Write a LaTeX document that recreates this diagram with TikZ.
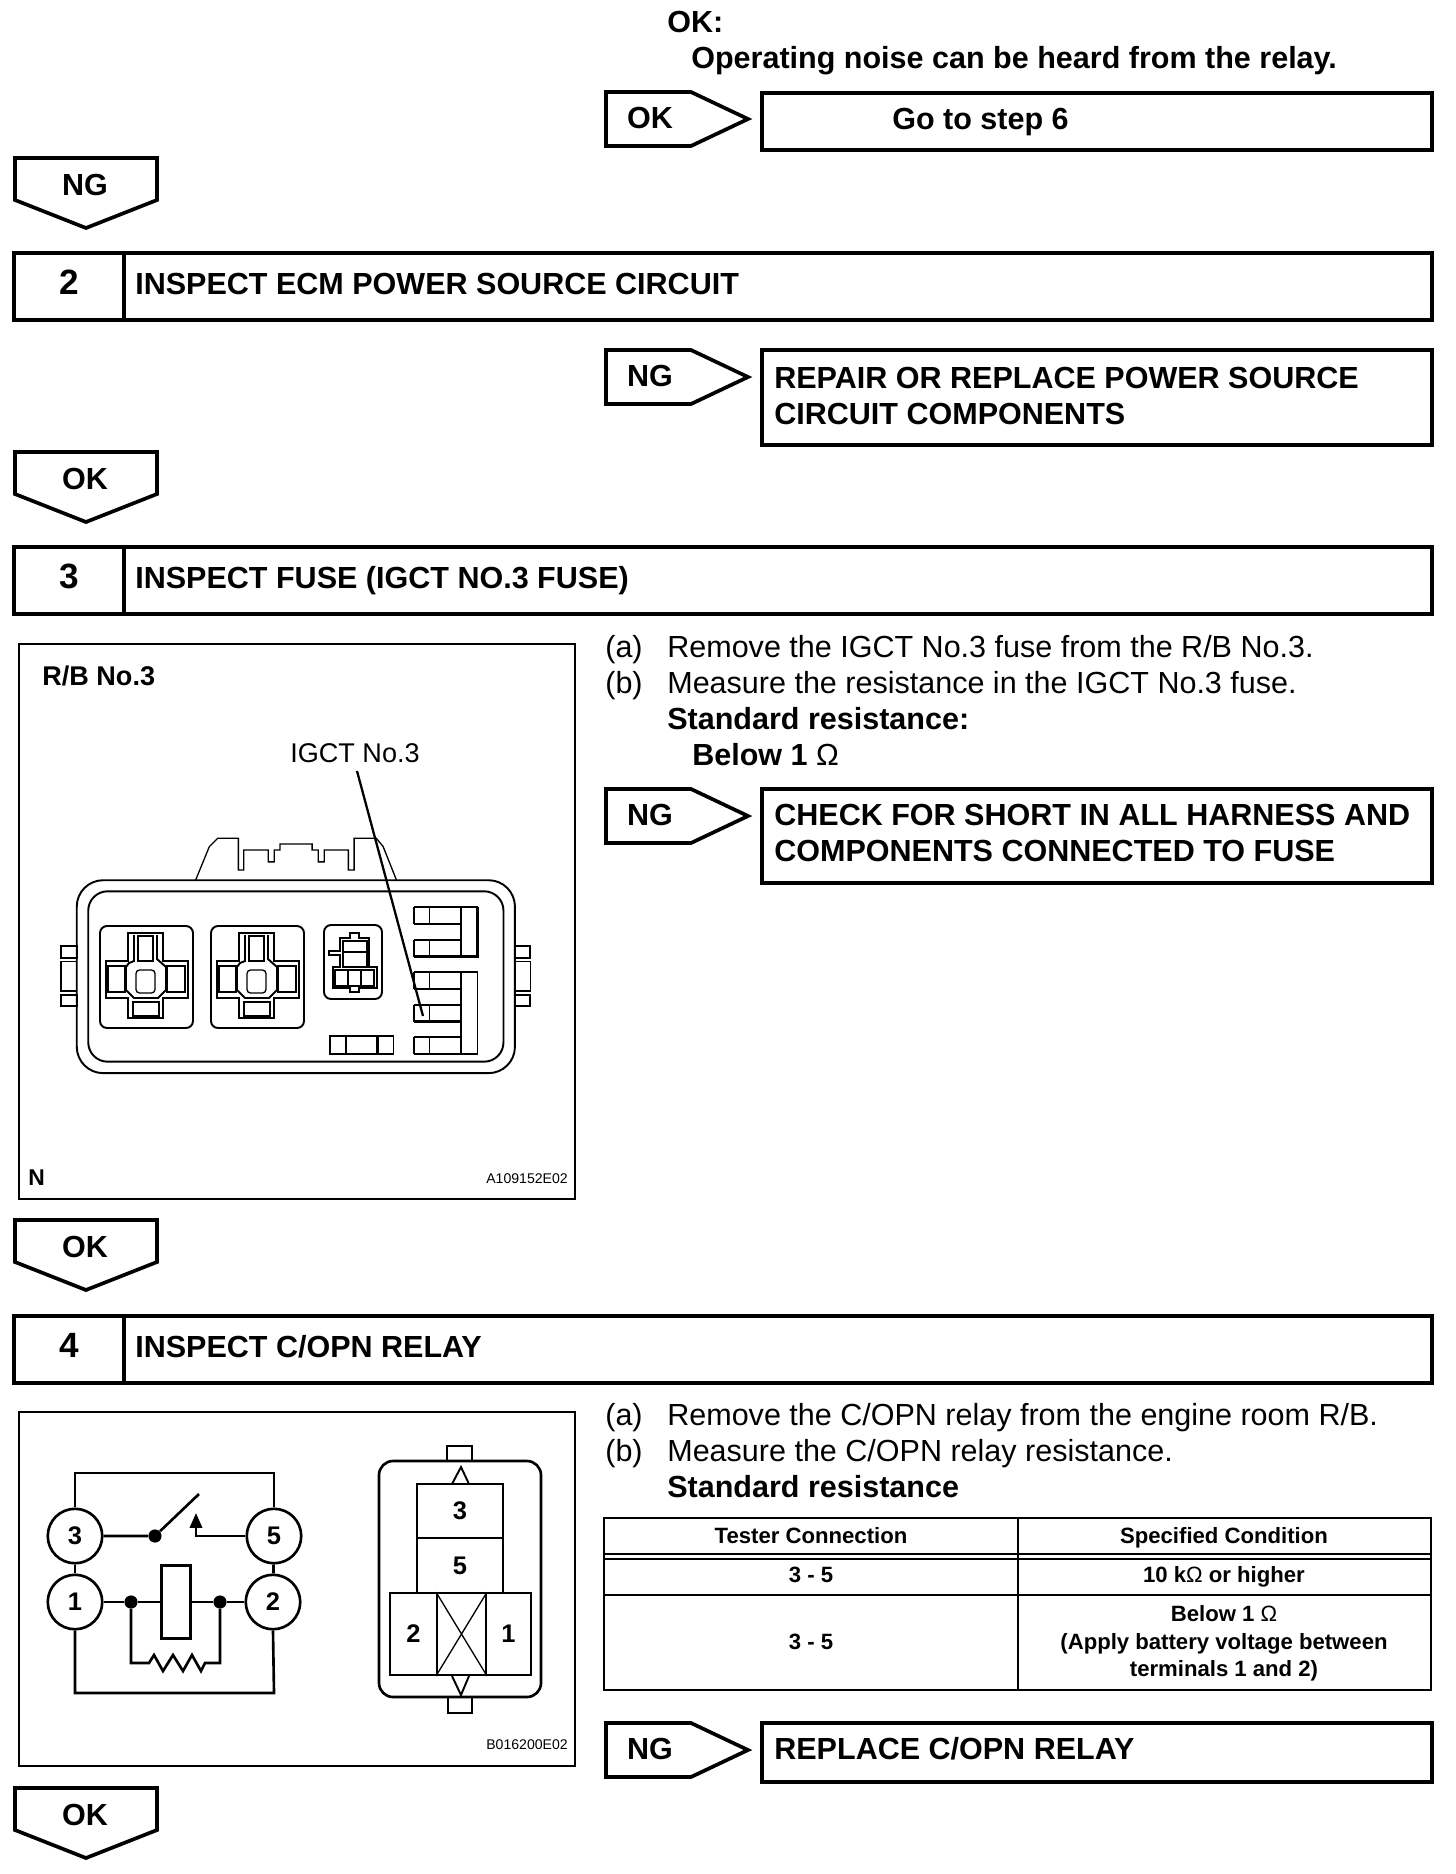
\documentclass[tikz,border=0pt]{standalone}
\usepackage{fontspec}
\setmainfont{Liberation Sans}
\usetikzlibrary{arrows.meta}
\tikzset{
  heavy/.style={line width=2.1pt},
  thin line/.style={line width=1.1pt},
  fine/.style={line width=0.75pt},
  med/.style={line width=1.3pt},
  wire/.style={line width=1.5pt},
  txt/.style={inner sep=0pt,font=\fontsize{17.37}{20.4}\selectfont,text height=12.4pt,text depth=0pt},
  btxt/.style={txt,font=\fontsize{17.37}{20.4}\selectfont\bfseries},
  block/.style={inner sep=0pt,anchor=north west,align=left,font=\fontsize{17.37}{20.4}\selectfont\bfseries},
  cell/.style={inner sep=0pt,font=\fontsize{12.6}{16}\selectfont\bfseries,text height=9pt,text depth=0pt},
  code/.style={inner sep=0pt,font=\fontsize{8}{10}\selectfont,text height=5.7pt,text depth=0pt},
  pin/.style={circle,draw,line width=1.5pt,minimum size=31pt,inner sep=0pt,font=\fontsize{14.5}{16}\selectfont\bfseries},
  joint/.style={circle,fill,minimum size=7.5pt,inner sep=0pt},
  cav/.style={draw,line width=1.2pt,inner sep=0pt,font=\fontsize{14.5}{16}\selectfont\bfseries}
}
\newcommand{\thinohm}{{\fontseries{m}\selectfont Ω}}
\newcommand{\tagright}[4]{\draw[heavy] (#2,#3) -- ++(85,0) -- ++(57,27) -- ++(-57,27) -- ++(-85,0) -- cycle; \node[btxt] (#1) at (#2+44,#3+26) {#4};}
\newcommand{\tagdown}[3]{\draw[heavy] (15,#2) -- (157,#2) -- (157,#2+42) -- (86,#2+70) -- (15,#2+42) -- cycle; \node[btxt] (#1) at (85,#2+27) {#3};}
\newcommand{\stepbar}[4]{\draw[heavy] (14,#2) rectangle (1432,#2+67); \draw[heavy] (124,#2) -- (124,#2+67);
  \node[btxt,font=\fontsize{20}{22}\selectfont\bfseries,text height=14.3pt] (#1n) at (69,#2+29) {#3};
  \node[btxt,anchor=west] (#1t) at (135,#2+31) {#4};}
\newcommand{\sock}[1]{\draw[thin line,rounded corners=4pt] (100+#1,926) rectangle (193+#1,1028);
  \draw[fine] (128+#1,961) -- (128+#1,933) -- (163+#1,933) -- (163+#1,961) -- (188+#1,961) -- (188+#1,998) -- (163+#1,998) -- (163+#1,1018) -- (128+#1,1018) -- (128+#1,998) -- (106+#1,998) -- (106+#1,961) -- cycle;
  \draw[thin line] (134+#1,935) -- (134+#1,961) -- (129+#1,963) -- (126+#1,967) -- (126+#1,990) -- (134+#1,998) -- (158+#1,998) -- (166+#1,990) -- (166+#1,967) -- (157+#1,959) -- (157+#1,935);
  \draw[thin line] (138+#1,936) rectangle (153+#1,961) (108+#1,966) rectangle (125+#1,992) (167+#1,966) rectangle (185+#1,992) (133+#1,1002) rectangle (159+#1,1016);
  \draw[fine,rounded corners=2pt] (136+#1,970) rectangle (155+#1,993);}
\begin{document}
\begin{tikzpicture}[x=0.02cm,y=-0.02cm]
\useasboundingbox (0,0) rectangle (1456,1874);
\node[btxt,anchor=west] (okhead) at (667,22) {OK:};
\node[btxt,anchor=west] (oknoise) at (691,58) {Operating noise can be heard from the relay.};
\tagright{oktag}{606}{92}{OK}
\draw[heavy] (762,93) rectangle (1432,150);
\node[btxt,anchor=west] (gostep) at (892,119) {Go to step 6};
\tagdown{ngdown}{158}{NG}
\stepbar{stwo}{253}{2}{INSPECT ECM POWER SOURCE CIRCUIT}
\tagright{ngtwo}{606}{350}{NG}
\draw[heavy] (762,350) rectangle (1432,445);
\node[block] (repair) at (774,367) {REPAIR OR REPLACE POWER SOURCE\\CIRCUIT COMPONENTS};
\tagdown{okdowntwo}{452}{OK}
\stepbar{sthree}{547}{3}{INSPECT FUSE (IGCT NO.3 FUSE)}
% fuse block
\draw[thin line] (19,644) rectangle (575,1199);
\sock{0}
\sock{111}
\draw[thin line,rounded corners=4pt] (324,925) rectangle (382,999);
\draw[fine] (340,938) -- (350,938) -- (350,933) -- (359,933) -- (359,938) -- (369,938) -- (369,967) -- (377,967) -- (377,988) -- (359,988) -- (359,992) -- (350,992) -- (350,988) -- (333,988) -- (333,967) -- (340,967) -- (340,955) -- (329,955) -- (329,951) -- (340,951) -- cycle;
\draw[thin line] (343,941) rectangle (367,967) (343,952) -- (367,952) (335,970) rectangle (374,986) (348,970) -- (348,986) (361,970) -- (361,986);
\begin{scope}[shift={(0,630)},scale=0.382]
\draw[fine] (512,655) -- (548,567) -- (570,545) -- (624,545) -- (624,628) -- (638,628) -- (638,576) -- (702,576) -- (702,607) -- (718,607) -- (718,576) -- (733,576) -- (733,560) -- (817,560) -- (817,576) -- (833,576) -- (833,607) -- (849,607) -- (849,576) -- (912,576) -- (912,628) -- (927,628) -- (927,545) -- (985,545) -- (1003,567) -- (1038,655);
\draw[thin line,rounded corners=15pt] (201,655) rectangle (1348,1160);
\draw[thin line,rounded corners=11pt] (231,684) rectangle (1318,1130);
\draw[thin line] (201,828) rectangle (160,858) (201,956) rectangle (160,985);
\draw[thin line] (1348,828) rectangle (1388,858) (1348,956) rectangle (1388,985);
\draw[fine] (201,868) rectangle (160,945) (1348,868) rectangle (1388,945);
\draw[fine] (1125,726) -- (1125,770) (1084,726) -- (1084,770) (1125,812) -- (1125,855) (1084,812) -- (1084,855) (1125,895) -- (1125,940) (1084,895) -- (1084,940) (1125,982) -- (1125,1025) (1084,982) -- (1084,1025) (1125,1065) -- (1125,1110) (1084,1065) -- (1084,1110) (1250,895) -- (1250,1110);
\draw[med] (1250,726) -- (1084,726) (1084,770) -- (1207,770) (1207,726) -- (1207,855) (1250,726) -- (1250,855) -- (1084,855) (1084,812) -- (1207,812);
\draw[med] (1250,895) -- (1084,895) (1084,940) -- (1207,940) (1084,982) -- (1207,982) (1084,1025) -- (1207,1025) (1084,1065) -- (1207,1065) (1084,1110) -- (1250,1110) (1207,895) -- (1207,1110);
\draw[fine] (864,1063) rectangle (1030,1110) (906,1063) -- (906,1110);
\draw[med] (988,1063) -- (988,1110) (864,1063) -- (1030,1063) (864,1110) -- (1030,1110);
\end{scope}
\node[inner sep=0pt,font=\fontsize{15.4}{18}\selectfont\bfseries,anchor=west,text height=11pt] (rbname) at (42,676) {R/B No.3};
\node[inner sep=0pt,font=\fontsize{15.4}{18}\selectfont,text height=11pt] (igct) at (355,753) {IGCT No.3};
\coordinate (igctfoot) at (357,771);
\coordinate (igctend) at (423,1016);
\draw[med] (igctfoot) -- (igctend);
\node[code,font=\fontsize{13}{15}\selectfont\bfseries,text height=9pt,anchor=west] (nmark) at (28,1178) {N};
\node[code,anchor=east] (acode) at (568,1178) {A109152E02};
% fuse steps
\node[txt,anchor=west] (a3) at (605,647) {(a)};
\node[txt,anchor=west] (a3t) at (667,647) {Remove the IGCT No.3 fuse from the R/B No.3.};
\node[txt,anchor=west] (b3) at (605,683) {(b)};
\node[txt,anchor=west] (b3t) at (667,683) {Measure the resistance in the IGCT No.3 fuse.};
\node[btxt,anchor=west] (std3) at (667,719) {Standard resistance:};
\node[btxt,anchor=west] (below3) at (692,755) {Below 1 \thinohm};
\tagright{ngthree}{606}{789}{NG}
\draw[heavy] (762,789) rectangle (1432,883);
\node[block] (shortchk) at (774,804) {CHECK FOR SHORT IN ALL HARNESS AND\\COMPONENTS CONNECTED TO FUSE};
\tagdown{okdownthree}{1220}{OK}
\stepbar{sfour}{1316}{4}{INSPECT C/OPN RELAY}
% relay picture
\draw[thin line] (19,1412) rectangle (575,1766);
\node[pin] (t3) at (75,1536) {3};
\node[pin] (t5) at (274,1536) {5};
\node[pin] (t1) at (75,1602) {1};
\node[pin] (t2) at (273,1602) {2};
\node[joint] (j3) at (155,1536) {};
\node[joint] (j1) at (131,1602) {};
\node[joint] (j2) at (220,1602) {};
\node[draw,wire,minimum width=16.4pt,minimum height=41.5pt,inner sep=0pt] (coil) at (176,1602) {};
\coordinate (tl) at (75,1473);
\coordinate (tr) at (274,1473);
\coordinate (bl) at (75,1693);
\coordinate (br) at (274,1693);
\coordinate (arm) at (199,1494);
\coordinate (ctip) at (196,1513);
\coordinate (cfoot) at (196,1536);
\coordinate (rl) at (131,1663);
\coordinate (rr) at (220,1663);
\draw[wire] (t3.north) -- (tl) -- (tr) -- (t5.north);
\draw[wire] (t1.south) -- (bl) -- (br) -- (t2.south);
\draw[wire] (t3) -- (t1);
\draw[wire] (t5) -- (t2);
\draw[wire] (t3) -- (j3) -- (arm);
\draw[wire,-{Triangle[length=8.5pt,width=7pt]}] (t5) -- (cfoot) -- (ctip);
\draw[wire] (t1) -- (j1) -- (coil) -- (j2) -- (t2);
\draw[wire] (j1) -- (rl) -- (149,1663) -- (154,1655) -- (163,1671) -- (173,1655) -- (183,1671) -- (192,1655) -- (201,1671) -- (205,1663) -- (rr) -- (j2);
\draw[wire,rounded corners=8pt] (379,1461) rectangle (541,1697);
\draw[wire] (447,1461) -- (447,1446) -- (472,1446) -- (472,1461);
\draw[wire] (448,1697) -- (448,1713) -- (472,1713) -- (472,1697);
\draw[thin line] (452,1484) -- (461,1467) -- (469,1484);
\draw[thin line] (452,1676) -- (461,1695) -- (469,1676);
\node[cav,minimum width=48.8pt,minimum height=30.6pt] (c3) at (460,1511) {3};
\node[cav,minimum width=48.8pt,minimum height=31.2pt] (c5) at (460,1565.5) {5};
\node[cav,minimum width=26.6pt,minimum height=46.5pt] (c2) at (413.5,1634) {2};
\node[cav,minimum width=27.8pt,minimum height=46.5pt] (cx) at (461.5,1634) {};
\node[cav,minimum width=25.5pt,minimum height=46.5pt] (c1) at (508.5,1634) {1};
\draw[fine] (cx.north west) -- (cx.south east) (cx.north east) -- (cx.south west);
\node[code,anchor=east] (bcode) at (568,1744) {B016200E02};
% relay steps
\node[txt,anchor=west] (a4) at (605,1415) {(a)};
\node[txt,anchor=west] (a4t) at (667,1415) {Remove the C/OPN relay from the engine room R/B.};
\node[txt,anchor=west] (b4) at (605,1451) {(b)};
\node[txt,anchor=west] (b4t) at (667,1451) {Measure the C/OPN relay resistance.};
\node[btxt,anchor=west] (std4) at (667,1487) {Standard resistance};
% table
\draw[thin line] (604,1518) rectangle (1431,1690);
\draw[thin line] (1018,1518) -- (1018,1690);
\draw[thin line] (604,1554) -- (1431,1554) (604,1559) -- (1431,1559);
\draw[line width=1.6pt] (604,1595) -- (1431,1595);
\node[cell] (h1) at (811,1536) {Tester Connection};
\node[cell] (h2) at (1224,1536) {Specified Condition};
\node[cell] (r1a) at (811,1575) {3 - 5};
\node[cell] (r1b) at (1224,1575) {10 k\thinohm{} or higher};
\node[cell] (r2a) at (811,1642) {3 - 5};
\node[cell] (r2b) at (1224,1614) {Below 1 \thinohm};
\node[cell] (r2c) at (1224,1642) {(Apply battery voltage between};
\node[cell] (r2d) at (1224,1669) {terminals 1 and 2)};
\tagright{ngfour}{606}{1723}{NG}
\draw[heavy] (762,1723) rectangle (1432,1782);
\node[btxt,anchor=west] (replace) at (774,1749) {REPLACE C/OPN RELAY};
\tagdown{okdownfour}{1788}{OK}
\end{tikzpicture}
\end{document}
